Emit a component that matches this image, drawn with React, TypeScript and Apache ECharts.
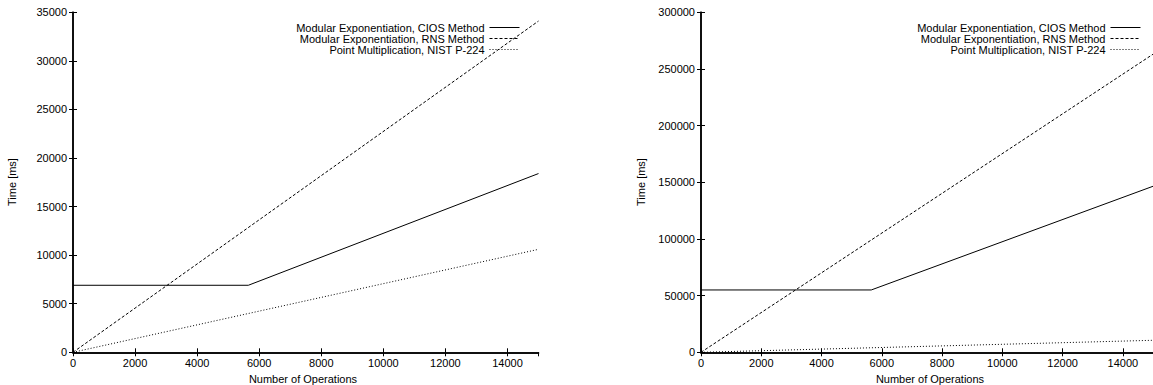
import React, { useEffect, useRef } from "react";
import * as echarts from "echarts";

const seriesNames = [
  "Modular Exponentiation, CIOS Method",
  "Modular Exponentiation, RNS Method",
  "Point Multiplication, NIST P-224",
];
const xTicks = { min: 0, max: 15000, interval: 2000 };

// Left chart (values in ms)
const leftCios: [number, number][] = [[0, 6900], [5650, 6900], [15000, 18400]];
const leftRns: [number, number][] = [[0, 0], [15000, 34100]];
const leftPoint: [number, number][] = [[0, 0], [15000, 10600]];

// Right chart (values in ms)
const rightCios: [number, number][] = [[0, 55000], [5650, 55000], [15000, 146500]];
const rightRns: [number, number][] = [[0, 0], [15000, 263000]];
const rightPoint: [number, number][] = [[0, 0], [15000, 10600]];

const leftY = { min: 0, max: 35000, interval: 5000 };
const rightY = { min: 0, max: 300000, interval: 50000 };

const FONT = "'Liberation Sans', Arial, Helvetica, sans-serif";
const lineTypes: any[] = ["solid", [3, 2], [1, 2]];

export default function App() {
  const ref = useRef<HTMLDivElement>(null);
  useEffect(() => {
    if (!ref.current) return;
    const chart = echarts.init(ref.current, undefined, { renderer: "svg" });

    const axisLine = { show: true, lineStyle: { color: "#000", width: 1.5 } };
    const axisTick = { show: true, inside: true, length: 4, lineStyle: { color: "#000", width: 1 } };
    const label = { color: "#000", fontSize: 11, fontFamily: FONT, formatter: (v: number) => String(v) };

    const mkX = (gridIndex: number, top: boolean) => ({
      type: "value",
      gridIndex,
      position: top ? "top" : "bottom",
      min: xTicks.min,
      max: xTicks.max,
      interval: xTicks.interval,
      axisLine,
      axisTick,
      splitLine: { show: false },
      axisLabel: top ? { show: false } : { ...label, margin: 5, showMaxLabel: false },
    });
    const mkY = (gridIndex: number, right: boolean, r: { min: number; max: number; interval: number }) => ({
      type: "value",
      gridIndex,
      position: right ? "right" : "left",
      min: r.min,
      max: r.max,
      interval: r.interval,
      axisLine,
      axisTick,
      splitLine: { show: false },
      axisLabel: right ? { show: false } : { ...label, margin: 6 },
    });

    const mkSeries = (data: [number, number][], i: number, axis: number) => ({
      type: "line",
      name: seriesNames[i],
      data,
      xAxisIndex: axis,
      yAxisIndex: axis,
      symbol: "none",
      silent: true,
      lineStyle: { color: "#000", width: 1, type: lineTypes[i] },
      itemStyle: { color: "#000" },
    });

    const legendBase = {
      orient: "vertical",
      align: "right",
      top: 17,
      itemWidth: 30,
      itemHeight: 11,
      itemGap: 0,
      selectedMode: false,
      data: seriesNames,
      itemStyle: { opacity: 0 },
      lineStyle: { width: 1 },
      textStyle: { color: "#000", fontSize: 11, fontFamily: FONT, lineHeight: 11 },
    };

    const txt = (x: number, y: number, text: string, rotate = 0) => ({
      type: "text",
      x,
      y,
      rotation: rotate,
      style: {
        text,
        fill: "#000",
        font: `11px ${FONT}`,
        textAlign: "center",
        textVerticalAlign: "middle",
      },
    });

    chart.setOption({
      animation: false,
      backgroundColor: "#fff",
      grid: [
        { left: 73, top: 12.3, width: 465.5, height: 340 },
        { left: 701, top: 12.3, width: 465.5, height: 340 },
      ],
      xAxis: [mkX(0, false), mkX(0, true), mkX(1, false), mkX(1, true)],
      yAxis: [mkY(0, false, leftY), mkY(0, true, leftY), mkY(1, false, rightY), mkY(1, true, rightY)],
      legend: [
        { ...legendBase, right: 628 },
        { ...legendBase, right: 7 },
      ],
      series: [
        mkSeries(leftCios, 0, 0),
        mkSeries(leftRns, 1, 0),
        mkSeries(leftPoint, 2, 0),
        mkSeries(rightCios, 0, 2),
        mkSeries(rightRns, 1, 2),
        mkSeries(rightPoint, 2, 2),
      ],
      graphic: [
        txt(303, 379, "Number of Operations"),
        txt(930, 379, "Number of Operations"),
        txt(12, 182, "Time [ms]", Math.PI / 2),
        txt(641, 182, "Time [ms]", Math.PI / 2),
      ],
    });
    return () => chart.dispose();
  }, []);
  return (
    <div
      ref={ref}
      style={{ position: "fixed", left: 0, top: 0, width: 1153, height: 385, overflow: "hidden" }}
    />
  );
}
